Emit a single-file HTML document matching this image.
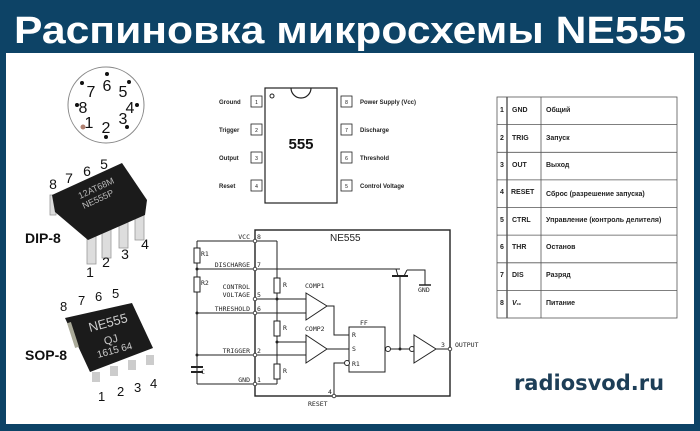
<!DOCTYPE html>
<html><head><meta charset="utf-8"><style>
html,body{margin:0;padding:0;width:700px;height:431px;overflow:hidden;background:#0d4366}
svg{display:block}
</style></head><body>
<svg width="700" height="431" viewBox="0 0 700 431" xmlns="http://www.w3.org/2000/svg" font-family="Liberation Sans, sans-serif">
<rect x="0" y="0" width="700" height="431" fill="#0d4366"/>
<rect x="6" y="53" width="688" height="371" fill="#ffffff"/>
<text x="350" y="43" text-anchor="middle" font-size="38" font-weight="bold" fill="#ffffff" textLength="672" lengthAdjust="spacingAndGlyphs">Распиновка микросхемы NE555</text>

<!-- TO-99 circle -->
<circle cx="106" cy="105" r="38" fill="none" stroke="#888" stroke-width="1"/>
<g font-size="16" fill="#111" text-anchor="middle">
<text x="107" y="91">6</text><text x="91" y="97">7</text><text x="123" y="97">5</text>
<text x="83" y="113">8</text><text x="130" y="113">4</text>
<text x="89" y="128">1</text><text x="123" y="124">3</text><text x="106" y="133">2</text>
</g>
<g fill="#111"><circle cx="107" cy="74" r="2"/><circle cx="82" cy="83" r="2"/><circle cx="129" cy="82" r="2"/><circle cx="77" cy="105" r="2"/><circle cx="137" cy="105" r="2"/><circle cx="127" cy="127" r="2"/><circle cx="106" cy="137" r="2"/></g>
<circle cx="83" cy="127" r="2.5" fill="#b08070"/>

<!-- DIP-8 -->
<g fill="#ddd" stroke="#999" stroke-width="0.8">
<rect x="87" y="234" width="9" height="30"/><rect x="102" y="228" width="9" height="30"/><rect x="119" y="220" width="9" height="28"/><rect x="135" y="212" width="9" height="28"/>
<rect x="50" y="195" width="6" height="20"/>
</g>
<polygon points="52,195 122,163 147,200 145,215 88,240 55,212" fill="#1b1b1b"/>
<text x="80" y="199" font-size="9" fill="#bbb" transform="rotate(-25 80 199)">12AT68M</text>
<text x="84" y="209" font-size="9" fill="#bbb" transform="rotate(-25 84 209)">NE555P</text>
<g font-size="14" fill="#111" text-anchor="middle"><text x="53" y="189">8</text><text x="69" y="183">7</text><text x="87" y="176">6</text><text x="104" y="169">5</text>
<text x="145" y="249">4</text><text x="125" y="259">3</text><text x="106" y="267">2</text><text x="90" y="277">1</text></g>
<text x="25" y="243" font-size="14" font-weight="bold" fill="#111">DIP-8</text>

<!-- SOP-8 -->
<polygon points="65,318 132,303 153,348 90,372" fill="#1b1b1b"/>
<rect x="71" y="322" width="4" height="26" fill="#aa9" transform="rotate(-18 73 335)"/>
<text x="90" y="332" font-size="13" fill="#ccc" transform="rotate(-15 90 332)">NE555</text>
<text x="105" y="345" font-size="11" fill="#ccc" transform="rotate(-15 105 345)">QJ</text>
<text x="98" y="358" font-size="10" fill="#ccc" transform="rotate(-15 98 358)">1615 64</text>
<g fill="#ccc"><rect x="92" y="372" width="8" height="10"/><rect x="110" y="366" width="8" height="10"/><rect x="128" y="360" width="8" height="10"/><rect x="146" y="355" width="8" height="10"/></g>
<g font-size="13" fill="#111"><text x="60" y="311">8</text><text x="78" y="305">7</text><text x="95" y="301">6</text><text x="112" y="298">5</text>
<text x="98" y="401">1</text><text x="117" y="396">2</text><text x="134" y="392">3</text><text x="150" y="388">4</text></g>
<text x="25" y="360" font-size="14" font-weight="bold" fill="#111">SOP-8</text>

<!-- DIP pinout -->
<rect x="265" y="88" width="72" height="115" fill="#fff" stroke="#222" stroke-width="1.2"/>
<path d="M291 88 A10 10 0 0 0 311 88" fill="none" stroke="#222" stroke-width="1.2"/>
<circle cx="272" cy="96" r="2" fill="none" stroke="#222"/>
<text x="301" y="149" text-anchor="middle" font-size="15" font-weight="bold" fill="#111">555</text>
<g fill="#fff" stroke="#222" stroke-width="0.8">
<rect x="251" y="96" width="11" height="11"/><rect x="251" y="124" width="11" height="11"/><rect x="251" y="152" width="11" height="11"/><rect x="251" y="180" width="11" height="11"/>
<rect x="341" y="96" width="11" height="11"/><rect x="341" y="124" width="11" height="11"/><rect x="341" y="152" width="11" height="11"/><rect x="341" y="180" width="11" height="11"/>
</g>
<g font-size="5" text-anchor="middle" fill="#111"><text x="256.5" y="104">1</text><text x="256.5" y="132">2</text><text x="256.5" y="160">3</text><text x="256.5" y="188">4</text>
<text x="346.5" y="104">8</text><text x="346.5" y="132">7</text><text x="346.5" y="160">6</text><text x="346.5" y="188">5</text></g>
<g font-size="6" font-weight="bold" fill="#222"><text x="219" y="104">Ground</text><text x="219" y="132">Trigger</text><text x="219" y="160">Output</text><text x="219" y="188">Reset</text>
<text x="360" y="104">Power Supply (Vcc)</text><text x="360" y="132">Discharge</text><text x="360" y="160">Threshold</text><text x="360" y="188">Control Voltage</text></g>

<!-- Table -->
<g stroke="#555" stroke-width="0.8" fill="none">
<rect x="497" y="97" width="180" height="221"/>
<line x1="507" y1="97" x2="507" y2="318" stroke-width="1.4"/><line x1="541" y1="97" x2="541" y2="318"/>
<line x1="497" y1="124.6" x2="677" y2="124.6"/><line x1="497" y1="152.3" x2="677" y2="152.3"/><line x1="497" y1="179.9" x2="677" y2="179.9"/><line x1="497" y1="207.5" x2="677" y2="207.5"/><line x1="497" y1="235.1" x2="677" y2="235.1"/><line x1="497" y1="262.8" x2="677" y2="262.8"/><line x1="497" y1="290.4" x2="677" y2="290.4"/>
</g>
<g font-size="7" font-weight="bold" fill="#222">
<text x="500" y="112">1</text><text x="512" y="112">GND</text><text x="546" y="112">Общий</text>
<text x="500" y="140">2</text><text x="512" y="140">TRIG</text><text x="546" y="140">Запуск</text>
<text x="500" y="167">3</text><text x="512" y="167">OUT</text><text x="546" y="167">Выход</text>
<text x="500" y="194">4</text><text x="511" y="194">RESET</text><text x="546" y="196">Сброс (разрешение запуска)</text>
<text x="500" y="222">5</text><text x="512" y="222">CTRL</text><text x="546" y="222">Управление (контроль делителя)</text>
<text x="500" y="249">6</text><text x="512" y="249">THR</text><text x="546" y="249">Останов</text>
<text x="500" y="277">7</text><text x="512" y="277">DIS</text><text x="546" y="277">Разряд</text>
<text x="500" y="305">8</text><text x="512" y="305"><tspan font-style="italic">V</tspan><tspan font-size="4">cc</tspan></text><text x="546" y="305">Питание</text>
</g>

<!-- Schematic -->
<g stroke="#222" stroke-width="1" fill="none">
<rect x="255" y="230" width="195" height="166" stroke-width="1.4"/>
<line x1="197" y1="241" x2="255" y2="241"/>
<line x1="197" y1="241" x2="197" y2="384"/>
<line x1="197" y1="384" x2="255" y2="384"/>
<rect x="194" y="248" width="6" height="15" fill="#fff"/>
<rect x="194" y="277" width="6" height="15" fill="#fff"/>
<line x1="197" y1="269" x2="400" y2="269"/>
<line x1="197" y1="313" x2="306" y2="313"/>
<line x1="197" y1="355" x2="306" y2="355"/>
<line x1="191" y1="367" x2="203" y2="367" stroke-width="2"/><line x1="191" y1="372" x2="203" y2="372" stroke-width="2"/>
<line x1="255" y1="241" x2="277" y2="241"/><line x1="277" y1="241" x2="277" y2="384"/><line x1="255" y1="384" x2="277" y2="384"/>
<rect x="274" y="278" width="6" height="15" fill="#fff"/>
<rect x="274" y="321" width="6" height="15" fill="#fff"/>
<rect x="274" y="364" width="6" height="15" fill="#fff"/>
<line x1="255" y1="299" x2="306" y2="299"/>
<line x1="277" y1="342" x2="306" y2="342"/>
<polygon points="306,293 327,306 306,320" fill="#fff"/>
<polygon points="306,335 327,349 306,363" fill="#fff"/>
<polyline points="327,306 334,306 334,335 349,335"/>
<line x1="327" y1="349" x2="349" y2="349"/>
<rect x="349" y="327" width="36" height="45" fill="#fff"/>
<circle cx="347" cy="363" r="2.5" fill="#fff"/>
<polyline points="344,363 334,363 334,396"/>
<circle cx="388" cy="349" r="2.5" fill="#fff"/>
<line x1="391" y1="349" x2="409" y2="349"/>
<circle cx="412" cy="349" r="2.5" fill="#fff"/>
<polygon points="414,335 436,349 414,363" fill="#fff"/>
<line x1="436" y1="349" x2="450" y2="349"/>
<line x1="400" y1="349" x2="400" y2="276"/>
<line x1="392" y1="276" x2="408" y2="276" stroke-width="2"/>
<line x1="396" y1="269" x2="398" y2="276"/><line x1="404" y1="276" x2="407" y2="270"/>
<polyline points="407,270 425,270 425,285"/>
<line x1="419" y1="285" x2="431" y2="285" stroke-width="1.5"/>
</g>
<g fill="#fff" stroke="#222" stroke-width="0.8">
<circle cx="255" cy="241" r="1.8"/><circle cx="255" cy="269" r="1.8"/><circle cx="255" cy="299" r="1.8"/><circle cx="255" cy="313" r="1.8"/><circle cx="255" cy="355" r="1.8"/><circle cx="255" cy="384" r="1.8"/><circle cx="334" cy="396" r="1.8"/><circle cx="450" cy="349" r="1.8"/>
</g>
<g fill="#222"><circle cx="197" cy="269" r="1.5"/><circle cx="197" cy="313" r="1.5"/><circle cx="197" cy="355" r="1.5"/><circle cx="277" cy="299" r="1.5"/><circle cx="277" cy="342" r="1.5"/><circle cx="400" cy="349" r="1.5"/></g>
<g font-family="DejaVu Sans Mono, Liberation Mono, monospace" font-size="6.5" fill="#222">
<text x="330" y="241" font-size="10" font-family="Liberation Sans, sans-serif">NE555</text>
<text x="250" y="239" text-anchor="end">VCC</text><text x="257" y="239">8</text>
<text x="250" y="267" text-anchor="end">DISCHARGE</text><text x="257" y="267">7</text>
<text x="250" y="289" text-anchor="end">CONTROL</text><text x="250" y="297" text-anchor="end">VOLTAGE</text><text x="257" y="297">5</text>
<text x="250" y="311" text-anchor="end">THRESHOLD</text><text x="257" y="311">6</text>
<text x="250" y="353" text-anchor="end">TRIGGER</text><text x="257" y="353">2</text>
<text x="250" y="382" text-anchor="end">GND</text><text x="257" y="382">1</text>
<text x="201" y="256">R1</text><text x="201" y="285">R2</text><text x="201" y="374">C</text>
<text x="283" y="287">R</text><text x="283" y="330">R</text><text x="283" y="373">R</text>
<text x="305" y="288">COMP1</text><text x="305" y="331">COMP2</text>
<text x="360" y="325">FF</text>
<text x="352" y="337">R</text><text x="352" y="351">S</text><text x="352" y="366">R1</text>
<text x="418" y="292">GND</text>
<text x="328" y="394">4</text><text x="308" y="406">RESET</text>
<text x="441" y="347">3</text><text x="455" y="347">OUTPUT</text>
</g>

<text x="589" y="390" text-anchor="middle" font-size="21" font-weight="bold" fill="#1d3e57" font-family="DejaVu Sans, Liberation Sans, sans-serif">radiosvod.ru</text>
</svg>
</body></html>
